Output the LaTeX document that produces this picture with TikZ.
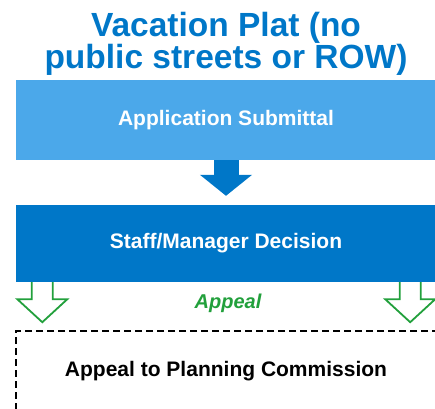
\documentclass[tikz,border=0pt]{standalone}
\usepackage{fontspec}
\setmainfont{Liberation Sans}
\usetikzlibrary{arrows.meta,positioning}
\definecolor{titleblue}{RGB}{0,119,200}
\definecolor{lightblue}{RGB}{75,168,234}
\definecolor{appealgreen}{RGB}{34,160,60}
\tikzset{
  title/.style={text=titleblue, align=center, font=\bfseries\fontsize{33.5}{32}\selectfont, inner sep=0pt},
  stepbox/.style={rectangle, fill=#1, text=white, font=\bfseries\fontsize{21}{25}\selectfont, minimum width=420pt, inner sep=0pt},
  reviewbox/.style={rectangle, draw=black, dash pattern=on 7pt off 4pt, line width=1.7pt, minimum width=430pt, minimum height=80pt, inner sep=0pt},
  reviewtext/.style={font=\bfseries\fontsize{21}{25}\selectfont, inner sep=0pt},
  appealtext/.style={text=appealgreen, font=\bfseries\itshape\fontsize{20}{24}\selectfont, inner sep=0pt},
  bluearrow/.style={line width=25pt, titleblue, -{Triangle[length=21pt, width=51pt]}},
  appealline/.style={draw=appealgreen, line width=1.8pt, fill=white, line join=miter},
  appealarrow/.pic={\draw[appealline] (-10.5,0) -- (-10.5,17) -- (-25,17) -- (0,40) -- (25,17) -- (10.5,17) -- (10.5,0);}
}
\begin{document}
\begin{tikzpicture}[x=1pt, y=-1pt]
  \useasboundingbox (0,0) rectangle (435,408);
  \clip (0,0) rectangle (435,408);
  \node[title] (head) at (226,44) {Vacation Plat (no\\public streets or ROW)};
  \node[stepbox=lightblue, minimum height=80pt] (submit) at (226,120) {Application Submittal};
  \node[stepbox=titleblue, minimum height=77pt] (decide) at (226,243.5) {Staff/Manager Decision};
  \draw[bluearrow] (submit.south) -- ([yshift=9pt]decide.north);
  \pic at ([xshift=26.5pt]decide.south west) {appealarrow};
  \pic at ([xshift=-26pt]decide.south east) {appealarrow};
  \node[appealtext] (appeal) at (228,303) {Appeal};
  \node[reviewbox] (commission) at (231,371) {};
  \node[reviewtext] (commissiontext) at (226,371) {Appeal to Planning Commission};
\end{tikzpicture}
\end{document}
